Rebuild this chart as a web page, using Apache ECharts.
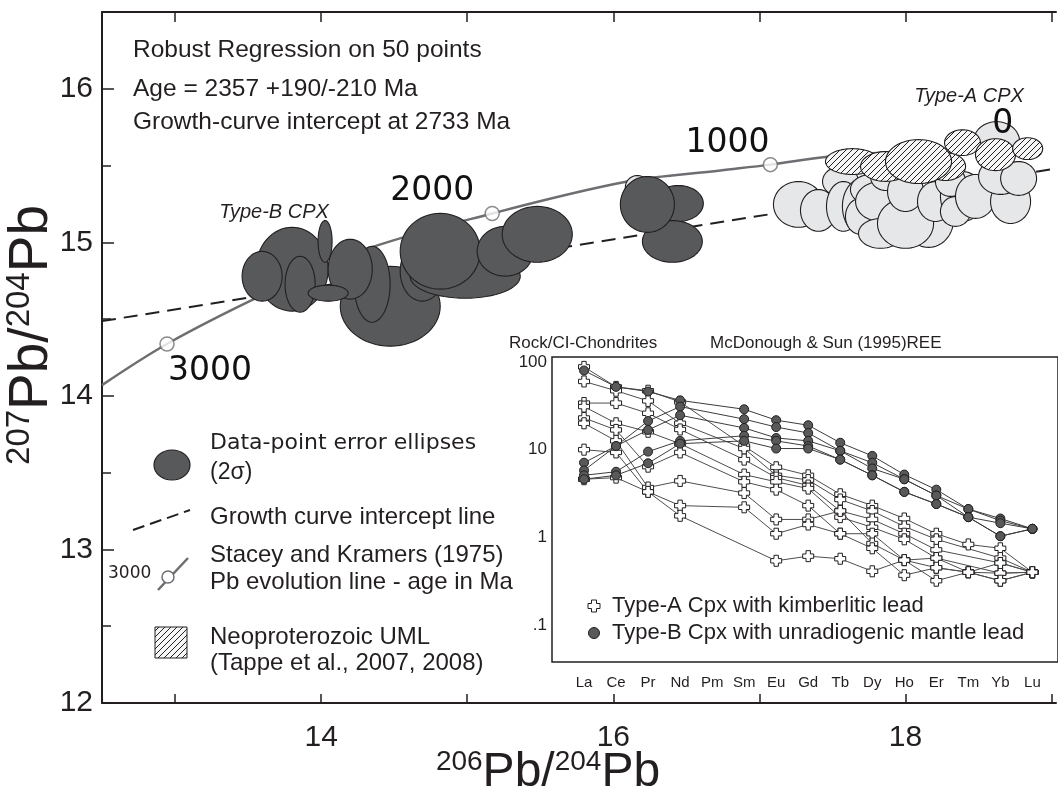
<!DOCTYPE html>
<html>
<head>
<meta charset="utf-8">
<script src="https://cdn.jsdelivr.net/npm/echarts@6.0.0/dist/echarts.min.js"></script>
<style>
  html, body { margin: 0; padding: 0; background: #fff; }
  #chart { width: 1058px; height: 795px; }
</style>
</head>
<body>
<div id="chart"></div>
<script>
// ---- main diagram data (206Pb/204Pb, 207Pb/204Pb) ----
// error ellipses: [x, y, semi-axis x, semi-axis y, angle deg]
const typeBEllipses = [
  [13.801, 14.825, 0.247, 0.273, 0],
  [13.596, 14.779, 0.137, 0.162, 0],
  [14.473, 14.584, 0.342, 0.260, 0],
  [14.349, 14.727, 0.123, 0.247, 0],
  [14.199, 14.825, 0.151, 0.195, 0],
  [13.856, 14.727, 0.103, 0.182, 0],
  [14.048, 14.669, 0.137, 0.052, 0],
  [14.027, 15.006, 0.048, 0.136, 0],
  [14.692, 14.812, 0.151, 0.195, 0],
  [14.986, 14.779, 0.377, 0.143, 0],
  [14.815, 14.942, 0.274, 0.247, 0],
  [15.260, 14.942, 0.192, 0.162, 0],
  [15.479, 15.052, 0.240, 0.182, 0],
  [16.445, 15.253, 0.171, 0.117, 0],
  [16.404, 15.006, 0.205, 0.136, 0],
  [16.233, 15.247, 0.185, 0.182, 0]
];
const typeAEllipses = [
  [16.164, 15.357, 0.082, 0.078, 0],
  [18.623, 15.656, 0.158, 0.130, 0],
  [17.555, 15.396, 0.123, 0.097, 0],
  [17.267, 15.247, 0.171, 0.149, 0],
  [17.404, 15.208, 0.123, 0.136, 0],
  [17.575, 15.234, 0.116, 0.162, 0],
  [17.705, 15.234, 0.137, 0.182, 0],
  [17.692, 15.169, 0.103, 0.117, 0],
  [17.760, 15.344, 0.137, 0.097, 0],
  [17.829, 15.266, 0.171, 0.130, 0],
  [17.863, 15.429, 0.103, 0.091, 0],
  [17.829, 15.058, 0.151, 0.097, 0],
  [18.158, 15.149, 0.171, 0.182, 0],
  [18.000, 15.123, 0.192, 0.162, 0],
  [18.000, 15.331, 0.123, 0.130, 0],
  [18.205, 15.266, 0.123, 0.130, 0],
  [18.390, 15.299, 0.151, 0.162, 0],
  [18.342, 15.201, 0.103, 0.097, 0],
  [18.308, 15.396, 0.103, 0.097, 0],
  [18.479, 15.299, 0.137, 0.143, 0],
  [18.719, 15.266, 0.137, 0.143, 0],
  [18.651, 15.429, 0.151, 0.117, 0],
  [18.774, 15.416, 0.123, 0.110, 0]
];
const umlEllipses = [
  [17.637, 15.526, 0.185, 0.084, 0],
  [17.863, 15.494, 0.171, 0.097, 0],
  [18.274, 15.494, 0.137, 0.091, 0],
  [18.089, 15.526, 0.226, 0.143, 0],
  [18.390, 15.649, 0.123, 0.084, 0],
  [18.616, 15.571, 0.137, 0.104, 0],
  [18.836, 15.610, 0.103, 0.071, 0]
];
// Stacey & Kramers (1975) growth curve
const skX = [12.50, 12.945, 13.582, 14.267, 15.171, 16.096, 16.733, 17.075, 17.466, 17.966, 18.70];
const skY = [14.070, 14.338, 14.649, 14.942, 15.188, 15.396, 15.468, 15.506, 15.558, 15.591, 15.628];
// age marks on the curve (Ma)
const ageX = [12.945, 15.171, 17.075, 18.70];
const ageY = [14.338, 15.188, 15.506, 15.628];
const ageLabels = ['3000', '2000', '1000', '0'];
// growth-curve intercept line
const interceptX = [12.5, 19.03];
const interceptY = [14.487, 15.481];
const xTicks = [13, 14, 15, 16, 17, 18, 19];
const xTickLabels = [14, 16, 18];
const yTicks = [12, 13, 14, 15, 16];
const yMinorTicks = [12.5, 13.5, 14.5, 15.5];

// ---- inset: REE / CI chondrite ----
const reeElements = ['La', 'Ce', 'Pr', 'Nd', 'Pm', 'Sm', 'Eu', 'Gd', 'Tb', 'Dy', 'Ho', 'Er', 'Tm', 'Yb', 'Lu'];
const typeAREE = [
  [88, 52, 47, 35, null, 11, 6.3, 5.1, 3.1, 2.3, 1.64, 1.1, 0.83, 0.75, 0.4],
  [60, 47, 36, 20, null, 10.3, 5.1, 4.5, 2.7, 2.0, 1.33, 0.95, null, 0.58, 0.4],
  [34, 34, 26, 17, null, 7.7, 4.8, 3.9, 2.0, 1.6, 1.1, 0.72, null, 0.51, 0.4],
  [31, 20, 16, 11.7, null, 5.2, 4.3, 3.6, 1.7, 1.3, 0.95, 0.58, null, 0.39, 0.4],
  [23, 16.8, 6.4, 9.3, null, 4.3, 3.5, 2.3, 1.1, 1.1, 0.55, 0.45, 0.4, 0.32, 0.4],
  [20, 12.6, 3.7, 4.4, null, 3.2, 1.6, 1.6, 2.0, 0.85, 0.55, 0.58, 0.4, 0.39, 0.4],
  [10, 9.3, 3.3, 2.3, null, 2.2, 1.1, 1.4, 1.1, 0.75, 0.37, 0.45, 0.4, 0.32, 0.4],
  [4.6, 4.8, 3.3, 1.76, null, null, 0.54, 0.61, 0.57, 0.41, 0.55, 0.32, 0.4, 0.51, 0.4]
];
const typeBREE = [
  [80, 52, 46, 36.5, null, 28.9, 21.7, 19, 12, 8.5, 5.2, 3.5, 2.1, 1.64, 1.25],
  [7.1, 11, 21.2, 31, null, 22.3, 18.1, 15.5, 9.7, 7.1, 4.6, 3.0, 2.1, 1.55, 1.25],
  [5.8, 11, 16.8, 24.7, null, 17.7, 13.6, 12.6, 9.7, 6.1, 4.6, 3.0, 1.7, 1.45, 1.25],
  [5.1, 5.6, 9.5, 12.6, null, 14.4, 12.6, 11, 7.7, 5.1, 3.3, 2.4, 1.7, 1.03, 1.25],
  [4.6, 5.1, 7, 11.7, null, 12.6, 10.3, 10.3, 7.7, 5.1, 3.3, 2.4, 1.7, 1.03, 1.25]
];
const reeDecades = [-1, 0, 1, 2];
const reeDecadeLabels = ['.1', '1', '10', '100'];
const reeMantissa = [2, 3, 4, 5, 6, 7, 8, 9];

const INK = '#231f20';
const DARK = '#58595b';
const LIGHT = '#e6e7e8';
const FONT = 'Liberation Sans, Arial, sans-serif';
const CROSS = 'path://M3,0L7,0L7,3L10,3L10,7L7,7L7,10L3,10L3,7L0,7L0,3L3,3Z';

const REE_MIN = -1.422, REE_MAX = 2.057;
const reeMinor = [];
[-2, -1, 0, 1].forEach(d => reeMantissa.forEach(m => {
  const v = Math.log10(m) + d;
  if (v > REE_MIN && v < REE_MAX) reeMinor.push(v);
}));
const reeIdx = reeElements.map((e, i) => i + 1);

// hatch pattern for the Neoproterozoic UML field
const hatch = document.createElement('canvas');
hatch.width = 6; hatch.height = 6;
const hc = hatch.getContext('2d');
hc.fillStyle = '#f6f6f6'; hc.fillRect(0, 0, 6, 6);
hc.strokeStyle = INK; hc.lineWidth = 1;
hc.beginPath();
hc.moveTo(-1, 7); hc.lineTo(7, -1);
hc.moveTo(-1, 1); hc.lineTo(1, -1);
hc.moveTo(5, 7); hc.lineTo(7, 5);
hc.stroke();
const hatchFill = { image: hatch, repeat: 'repeat' };

function ellipseRenderer(fill) {
  return function (params, api) {
    const c = api.coord([api.value(0), api.value(1)]);
    const s = api.size([api.value(2), api.value(3)]);
    const a = (api.value(4) || 0) * Math.PI / 180;
    const pts = [];
    for (let k = 0; k < 64; k++) {
      const t = k / 64 * Math.PI * 2;
      const ex = s[0] * Math.cos(t), ey = s[1] * Math.sin(t);
      pts.push([c[0] + ex * Math.cos(a) - ey * Math.sin(a), c[1] - (ex * Math.sin(a) + ey * Math.cos(a))]);
    }
    return { type: 'polygon', shape: { points: pts }, style: { fill: fill, stroke: INK, lineWidth: 1.1 } };
  };
}

function txt(x, y, text, size, extra) {
  const o = {
    type: 'text', x: x, y: y, z: 50,
    style: { text: text, fill: INK, font: size + 'px ' + FONT, align: 'left', verticalAlign: 'middle', textAlign: 'left', textVerticalAlign: 'middle' }
  };
  if (extra) Object.assign(o.style, extra);
  return o;
}
function crossPts(cx, cy) {
  const a = 6, b = 2.5;
  return [[cx - b, cy - a], [cx + b, cy - a], [cx + b, cy - b], [cx + a, cy - b], [cx + a, cy + b], [cx + b, cy + b],
    [cx + b, cy + a], [cx - b, cy + a], [cx - b, cy + b], [cx - a, cy + b], [cx - a, cy - b], [cx - b, cy - b]];
}
function pbTitle(x, y, rot, big, small) {
  return {
    type: 'text', x: x, y: y, rotation: rot, z: 50,
    style: {
      text: '{s|' + (rot ? '207' : '206') + '}{b|Pb/}{s|204}{b|Pb}', fill: INK, align: 'center', verticalAlign: 'middle',
      textAlign: 'center', textVerticalAlign: 'middle',
      rich: {
        b: { fontSize: big, fontFamily: FONT, lineHeight: big + 2, fill: INK },
        s: { fontSize: small, fontFamily: FONT, lineHeight: small + 2, verticalAlign: 'top', fill: INK }
      }
    }
  };
}

const chart = echarts.init(document.getElementById('chart'), null, { renderer: 'canvas' });

const axisLine = { show: true, onZero: false, lineStyle: { color: INK, width: 2 } };
const noLine = { show: false, onZero: false };
const tickStyle = { color: INK, width: 1.5 };

const ageOffsets = [[43, 27], [-60, -22], [-43, -21], [-5, -21]];

const series = [
  {
    type: 'line', name: 'intercept', data: interceptX.map((x, i) => [x, interceptY[i]]),
    symbol: 'none', silent: true, z: 1,
    lineStyle: { color: INK, width: 2, type: [14, 8] }
  },
  {
    type: 'line', name: 'SK', data: skX.map((x, i) => [x, skY[i]]), smooth: 0.35,
    symbol: 'none', silent: true, z: 1,
    lineStyle: { color: '#6d6e71', width: 2.5 }
  },
  { type: 'custom', name: 'Type-A', data: typeAEllipses, renderItem: ellipseRenderer(LIGHT), z: 2, silent: true },
  { type: 'custom', name: 'UML', data: umlEllipses, renderItem: ellipseRenderer(hatchFill), z: 2, silent: true },
  { type: 'custom', name: 'Type-B', data: typeBEllipses, renderItem: ellipseRenderer(DARK), z: 2, silent: true },
  {
    type: 'scatter', name: 'ages', z: 5, silent: true,
    data: ageX.map((x, i) => ({
      value: [x, ageY[i]],
      symbolSize: ageLabels[i] === '0' ? 0 : 14,
      label: { offset: ageOffsets[i] }
    })),
    symbol: 'circle',
    itemStyle: { color: '#fff', borderColor: '#6d6e71', borderWidth: 1.5 },
    label: {
      show: true, position: 'inside',
      formatter: p => ageLabels[p.dataIndex],
      fontFamily: 'DejaVu Sans', fontSize: 33, color: '#111', textBorderWidth: 0, opacity: 1
    }
  }
];

typeAREE.forEach(s => series.push({
  type: 'line', xAxisIndex: 2, yAxisIndex: 2, z: 3, silent: true,
  data: s.map((v, i) => v == null ? null : [i + 1, Math.log10(v)]).filter(Boolean),
  symbol: CROSS, symbolSize: 11, showAllSymbol: true,
  lineStyle: { color: '#4d4d4f', width: 1 },
  itemStyle: { color: '#fff', borderColor: INK, borderWidth: 1 }
}));
typeBREE.forEach(s => series.push({
  type: 'line', xAxisIndex: 2, yAxisIndex: 2, z: 4, silent: true,
  data: s.map((v, i) => v == null ? null : [i + 1, Math.log10(v)]).filter(Boolean),
  symbol: 'circle', symbolSize: 9, showAllSymbol: true,
  lineStyle: { color: '#3d3d3f', width: 1 },
  itemStyle: { color: DARK, borderColor: INK, borderWidth: 1 }
}));

const option = {
  animation: false,
  backgroundColor: '#fff',
  textStyle: { fontFamily: FONT },
  grid: [
    { left: 102, top: 12, right: 2, bottom: 92 },
    { left: 552, top: 357, right: 0, bottom: 133, show: true, backgroundColor: '#fff', borderColor: INK, borderWidth: 1.5, z: 3 }
  ],
  xAxis: [
    {
      gridIndex: 0, type: 'value', min: 12.5, max: 19.03, position: 'bottom',
      axisLine: axisLine, splitLine: { show: false },
      axisTick: { show: true, inside: true, length: 9, customValues: xTicks, lineStyle: tickStyle },
      axisLabel: { customValues: xTickLabels, fontSize: 30, color: INK, margin: 20, fontFamily: FONT }
    },
    {
      gridIndex: 0, type: 'value', min: 12.5, max: 19.03, position: 'top',
      axisLine: axisLine, splitLine: { show: false },
      axisTick: { show: true, inside: true, length: 10, customValues: xTicks, lineStyle: tickStyle },
      axisLabel: { show: false }
    },
    {
      gridIndex: 1, type: 'value', min: 0, max: 15.8, position: 'bottom',
      axisLine: noLine, splitLine: { show: false },
      axisTick: { show: true, inside: true, length: 7, customValues: reeIdx, lineStyle: { color: INK, width: 1 } },
      axisLabel: { customValues: reeIdx, formatter: v => reeElements[Math.round(v) - 1], fontSize: 15, color: INK, margin: 13 }
    },
    {
      gridIndex: 1, type: 'value', min: 0, max: 15.8, position: 'top',
      axisLine: noLine, splitLine: { show: false },
      axisTick: { show: true, inside: true, length: 7, customValues: reeIdx, lineStyle: { color: INK, width: 1 } },
      axisLabel: { show: false }
    }
  ],
  yAxis: [
    {
      gridIndex: 0, type: 'value', min: 12, max: 16.5, position: 'left',
      axisLine: axisLine, splitLine: { show: false },
      axisTick: { show: true, inside: true, length: 12, customValues: yTicks, lineStyle: tickStyle },
      axisLabel: { customValues: yTicks, fontSize: 30, color: INK, margin: 9, fontFamily: FONT }
    },
    {
      gridIndex: 0, type: 'value', min: 12, max: 16.5, position: 'left',
      axisLine: noLine, splitLine: { show: false },
      axisTick: { show: true, inside: true, length: 9, customValues: yMinorTicks, lineStyle: tickStyle },
      axisLabel: { show: false }
    },
    {
      gridIndex: 1, type: 'value', min: REE_MIN, max: REE_MAX, position: 'left',
      axisLine: noLine, splitLine: { show: false },
      axisTick: { show: true, inside: true, length: 17, customValues: reeDecades, lineStyle: { color: INK, width: 1.5 } },
      axisLabel: { customValues: reeDecades, formatter: v => reeDecadeLabels[reeDecades.indexOf(Math.round(v))], fontSize: 17, color: INK, margin: 5 }
    },
    {
      gridIndex: 1, type: 'value', min: REE_MIN, max: REE_MAX, position: 'left',
      axisLine: noLine, splitLine: { show: false },
      axisTick: { show: true, inside: true, length: 8, customValues: reeMinor, lineStyle: { color: INK, width: 1 } },
      axisLabel: { show: false }
    },
    {
      gridIndex: 1, type: 'value', min: REE_MIN, max: REE_MAX, position: 'right',
      axisLine: noLine, splitLine: { show: false },
      axisTick: { show: true, inside: true, length: 15, customValues: reeDecades, lineStyle: { color: INK, width: 1.5 } },
      axisLabel: { show: false }
    },
    {
      gridIndex: 1, type: 'value', min: REE_MIN, max: REE_MAX, position: 'right',
      axisLine: noLine, splitLine: { show: false },
      axisTick: { show: true, inside: true, length: 6, customValues: reeMinor, lineStyle: { color: INK, width: 1 } },
      axisLabel: { show: false }
    }
  ],
  graphic: [
    // axis titles
    pbTitle(548, 773, 0, 48, 28),
    pbTitle(32, 335, Math.PI / 2, 55, 33),
    // regression notes
    txt(133, 50, 'Robust Regression on 50 points', 24.5),
    txt(133, 89, 'Age = 2357 +190/-210 Ma', 24.5),
    txt(133, 122, 'Growth-curve intercept at 2733 Ma', 24.5),
    txt(274, 212, 'Type-B CPX', 20, { font: 'italic 20px ' + FONT, align: 'center', textAlign: 'center' }),
    txt(969, 96, 'Type-A CPX', 20, { font: 'italic 20px ' + FONT, align: 'center', textAlign: 'center' }),
    // legend
    { type: 'circle', x: 172, y: 465, scaleX: 1.2, scaleY: 1, z: 40, shape: { cx: 0, cy: 0, r: 15 }, style: { fill: DARK, stroke: INK, lineWidth: 1 } },
    txt(210, 443, 'Data-point error ellipses', 22, { font: '22px DejaVu Sans' }),
    txt(210, 473, '(2σ)', 23),
    { type: 'line', z: 40, shape: { x1: 133, y1: 530, x2: 190, y2: 510 }, style: { stroke: INK, lineWidth: 2, lineDash: [12, 6] } },
    txt(210, 517, 'Growth curve intercept line', 24),
    txt(108, 574, '3000', 17, { font: '17px DejaVu Sans' }),
    { type: 'line', z: 40, shape: { x1: 158, y1: 590, x2: 188, y2: 558 }, style: { stroke: '#6d6e71', lineWidth: 2.5 } },
    { type: 'circle', z: 41, shape: { cx: 168, cy: 577, r: 6 }, style: { fill: '#fff', stroke: '#6d6e71', lineWidth: 1.5 } },
    txt(210, 555, 'Stacey and Kramers (1975)', 24),
    txt(210, 582, 'Pb evolution line - age in Ma', 24),
    { type: 'rect', z: 40, shape: { x: 155, y: 627, width: 32, height: 31 }, style: { fill: hatchFill, stroke: INK, lineWidth: 1 } },
    txt(210, 637, 'Neoproterozoic UML', 24),
    txt(210, 663, '(Tappe et al., 2007, 2008)', 24),
    // inset header + legend
    txt(509, 343, 'Rock/CI-Chondrites', 17),
    txt(710, 343, 'McDonough & Sun (1995)REE', 17),
    { type: 'polygon', z: 60, shape: { points: crossPts(594, 606) }, style: { fill: '#fff', stroke: INK, lineWidth: 1 } },
    txt(612, 606, 'Type-A Cpx with kimberlitic lead', 22),
    { type: 'circle', z: 60, shape: { cx: 594, cy: 633, r: 5.5 }, style: { fill: DARK, stroke: INK, lineWidth: 1 } },
    txt(612, 633, 'Type-B Cpx with unradiogenic mantle lead', 22)
  ],
  series: series
};

chart.setOption(option);
</script>
</body>
</html>
